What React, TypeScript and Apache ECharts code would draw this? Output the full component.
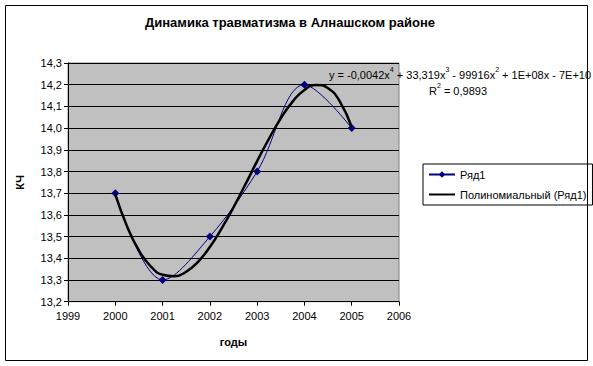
import React, { useEffect, useRef } from "react";
import * as echarts from "echarts";

const years = [2000, 2001, 2002, 2003, 2004, 2005];
const values = [13.7, 13.3, 13.5, 13.8, 14.2, 14.0];

const trendX = [2000, 2000.25, 2000.5, 2000.75, 2001, 2001.25, 2001.5, 2001.75, 2002, 2002.25, 2002.5, 2002.75, 2003, 2003.25, 2003.5, 2003.75, 2004, 2004.25, 2004.5, 2004.75, 2005];
const trendY = [13.695, 13.547, 13.436, 13.363, 13.324, 13.317, 13.338, 13.384, 13.452, 13.538, 13.635, 13.74, 13.848, 13.951, 14.045, 14.122, 14.176, 14.199, 14.184, 14.122, 14.005];

const titleText = "Динамика травматизма в Алнашском районе";
const seriesName = "Ряд1";
const trendName = "Полиномиальный (Ряд1)";
const xName = "годы";
const yName = "КЧ";

const FONT = "'Liberation Sans', Arial, sans-serif";

export default function App() {
  const ref = useRef<HTMLDivElement>(null);
  useEffect(() => {
    if (!ref.current) return;
    const chart = echarts.init(ref.current, null, { renderer: "svg" });
    const rich = {
      a: { fontSize: 11, fontFamily: FONT, fill: "#000", lineHeight: 14, verticalAlign: "bottom" },
      s: { fontSize: 7, fontFamily: FONT, fill: "#000", lineHeight: 14, verticalAlign: "top", padding: [0, 0, 6, 0] },
    };
    chart.setOption({
      animation: false,
      backgroundColor: "#fff",
      textStyle: { fontFamily: FONT },
      grid: {
        left: 68,
        top: 63,
        width: 331,
        height: 238.7,
        show: true,
        backgroundColor: "#c0c0c0",
        borderColor: "#808080",
        borderWidth: 1,
      },
      legend: {
        orient: "vertical",
        left: 423,
        top: 164,
        width: 160,
        padding: [5, 6, 5, 5],
        itemWidth: 26,
        itemHeight: 8,
        itemGap: 9,
        borderColor: "#000",
        borderWidth: 1,
        textStyle: { fontSize: 11, color: "#000", fontFamily: FONT },
        data: [
          { name: seriesName },
          { name: trendName, itemStyle: { opacity: 0 } },
        ],
      },
      xAxis: {
        type: "value",
        min: 1999,
        max: 2006,
        interval: 1,
        name: xName,
        nameLocation: "middle",
        nameGap: 35,
        nameTextStyle: { fontWeight: "bold", fontSize: 11, color: "#000", fontFamily: FONT },
        axisLine: { show: true, lineStyle: { color: "#000", width: 1 } },
        axisTick: { show: true, length: 4, lineStyle: { color: "#000" } },
        axisLabel: { color: "#000", fontSize: 11, margin: 9, fontFamily: FONT, formatter: (v: number) => String(Math.round(v)) },
        splitLine: { show: false },
      },
      yAxis: {
        type: "value",
        min: 13.2,
        max: 14.3,
        interval: 0.1,
        name: yName,
        nameLocation: "middle",
        nameGap: 43,
        nameTextStyle: { fontWeight: "bold", fontSize: 11, color: "#000", fontFamily: FONT },
        axisLine: { show: true, lineStyle: { color: "#000", width: 1 } },
        axisTick: { show: true, length: 4, lineStyle: { color: "#000" } },
        axisLabel: {
          color: "#000",
          fontSize: 11,
          margin: 6,
          fontFamily: FONT,
          formatter: (v: number) => v.toFixed(1).replace(".", ","),
        },
        splitLine: { show: true, lineStyle: { color: "#000", width: 1 } },
      },
      series: [
        {
          name: seriesName,
          type: "line",
          data: years.map((y, i) => [y, values[i]]),
          smooth: 0.35,
          symbol: "diamond",
          symbolSize: 8,
          itemStyle: { color: "#000080" },
          lineStyle: { color: "#000080", width: 1 },
          z: 2,
        },
        {
          name: trendName,
          type: "line",
          data: trendX.map((x, i) => [x, trendY[i]]),
          smooth: true,
          symbol: "none",
          showSymbol: false,
          itemStyle: { color: "#000" },
          lineStyle: { color: "#000", width: 2.5 },
          z: 3,
        },
      ],
      graphic: [
        {
          type: "rect",
          shape: { x: 5.5, y: 5.5, width: 582, height: 355 },
          style: { fill: "none", stroke: "#000", lineWidth: 1 },
          silent: true,
        },
        {
          type: "text",
          x: 290,
          y: 22,
          style: {
            text: titleText,
            fill: "#000",
            font: `bold 13px ${FONT}`,
            textAlign: "center",
            textVerticalAlign: "middle",
          },
        },
        {
          type: "text",
          x: 329,
          y: 66,
          z: 10,
          style: {
            text: "{a|y = -0,0042x}{s|4}{a| + 33,319x}{s|3}{a| - 99916x}{s|2}{a| + 1E+08x - 7E+10}",
            rich,
          },
        },
        {
          type: "text",
          x: 458,
          y: 89,
          z: 10,
          style: {
            text: "{a|R}{s|2}{a| = 0,9893}",
            textAlign: "center",
            textVerticalAlign: "middle",
            rich,
          },
        },
      ],
    });
    return () => chart.dispose();
  }, []);
  return <div ref={ref} style={{ width: 593, height: 366, position: "absolute", left: 0, top: 0 }} />;
}
